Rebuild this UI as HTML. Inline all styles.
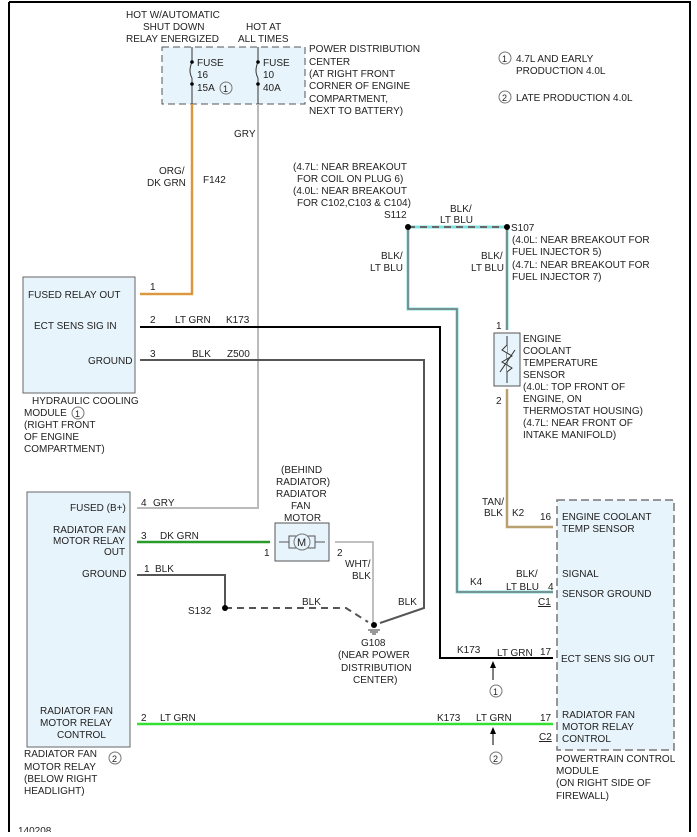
<!DOCTYPE html>
<html><head><meta charset="utf-8"><style>
html,body{margin:0;padding:0;background:#fff}
svg text{font-family:"Liberation Sans",sans-serif;font-size:10px;fill:#222}
</style></head><body>
<svg width="697" height="832" xmlns="http://www.w3.org/2000/svg">
<rect x="0" y="0" width="697" height="832" fill="#fff"/>
<line x1="9" y1="2" x2="691" y2="2" stroke="#000" stroke-width="2"/>
<line x1="9" y1="2" x2="9" y2="832" stroke="#000" stroke-width="2"/>
<line x1="690" y1="2" x2="690" y2="832" stroke="#000" stroke-width="2"/>

<!-- PDC -->
<rect x="162" y="47" width="143" height="57" fill="#e8f4fb" stroke="#555" stroke-dasharray="7,4"/>
<text x="126" y="18">HOT W/AUTOMATIC</text>
<text x="143" y="30">SHUT DOWN</text>
<text x="126" y="42">RELAY ENERGIZED</text>
<text x="246" y="30">HOT AT</text>
<text x="238" y="42">ALL TIMES</text>
<line x1="192" y1="47" x2="192" y2="62" stroke="#333"/>
<path d="M192 62 q-4 9 0 16" fill="none" stroke="#333"/>
<line x1="192" y1="78" x2="192" y2="104" stroke="#333"/>
<circle cx="192" cy="62" r="1.8" fill="#000"/><circle cx="192" cy="84" r="1.8" fill="#000"/>
<text x="197" y="66">FUSE</text><text x="197" y="78">16</text><text x="197" y="91">15A</text>
<circle cx="226" cy="88" r="6" fill="none" stroke="#777"/><text x="223" y="92" style="font-size:9px">1</text>
<line x1="258" y1="47" x2="258" y2="62" stroke="#333"/>
<path d="M258 62 q-4 9 0 16" fill="none" stroke="#333"/>
<line x1="258" y1="78" x2="258" y2="104" stroke="#333"/>
<circle cx="258" cy="62" r="1.8" fill="#000"/><circle cx="258" cy="84" r="1.8" fill="#000"/>
<text x="263" y="66">FUSE</text><text x="263" y="78">10</text><text x="263" y="91">40A</text>
<text x="309" y="52">POWER DISTRIBUTION</text>
<text x="309" y="65">CENTER</text>
<text x="309" y="77">(AT RIGHT FRONT</text>
<text x="309" y="89">CORNER OF ENGINE</text>
<text x="309" y="102">COMPARTMENT,</text>
<text x="309" y="114">NEXT TO BATTERY)</text>

<circle cx="505" cy="58" r="6" fill="none" stroke="#777"/><text x="502" y="62" style="font-size:9px">1</text>
<text x="516" y="62">4.7L AND EARLY</text><text x="516" y="74">PRODUCTION 4.0L</text>
<circle cx="505" cy="97" r="6" fill="none" stroke="#777"/><text x="502" y="101" style="font-size:9px">2</text>
<text x="516" y="101">LATE PRODUCTION 4.0L</text>

<!-- wires -->
<polyline points="192,104 192,294 140,294" fill="none" stroke="#e8a040" stroke-width="2.5"/>
<polyline points="192,104 192,294 140,294" fill="none" stroke="#b08040" stroke-width="0.6"/>
<polyline points="258,104 258,508 137,508" fill="none" stroke="#bbb" stroke-width="2"/>
<text x="234" y="137">GRY</text>
<text x="159" y="174">ORG/</text><text x="147" y="186">DK GRN</text>
<text x="203" y="183">F142</text>
<polyline points="140,327 440,327 440,658 553,658" fill="none" stroke="#000" stroke-width="2"/>
<polyline points="140,360 424,360 424,608 380,623" fill="none" stroke="#555" stroke-width="2"/>
<!-- S112/S107 -->
<line x1="408" y1="227" x2="507" y2="227" stroke="#7fe0e0" stroke-width="3"/>
<line x1="408" y1="227" x2="507" y2="227" stroke="#666" stroke-width="2" stroke-dasharray="7,5"/>
<polyline points="408,227 408,309 457,309 457,592 553,592" fill="none" stroke="#7fe0e0" stroke-width="3"/>
<polyline points="408,227 408,309 457,309 457,592 553,592" fill="none" stroke="#777" stroke-width="1.5"/>
<polyline points="507,227 507,330" fill="none" stroke="#7fe0e0" stroke-width="3"/>
<polyline points="507,227 507,330" fill="none" stroke="#777" stroke-width="1.5"/>
<polyline points="507,389 507,527 553,527" fill="none" stroke="#b8a070" stroke-width="2.5"/>
<circle cx="408" cy="227" r="3" fill="#000"/><circle cx="507" cy="227" r="3" fill="#000"/>
<text x="293" y="170">(4.7L: NEAR BREAKOUT</text>
<text x="297" y="182">FOR COIL ON PLUG 6)</text>
<text x="293" y="194">(4.0L: NEAR BREAKOUT</text>
<text x="297" y="206">FOR C102,C103 &amp; C104)</text>
<text x="384" y="218">S112</text>
<text x="450" y="212">BLK/</text><text x="440" y="223">LT BLU</text>
<text x="511" y="231">S107</text>
<text x="512" y="243">(4.0L: NEAR BREAKOUT FOR</text>
<text x="512" y="255">FUEL INJECTOR 5)</text>
<text x="512" y="268">(4.7L: NEAR BREAKOUT FOR</text>
<text x="512" y="280">FUEL INJECTOR 7)</text>
<text x="381" y="259">BLK/</text><text x="370" y="271">LT BLU</text>
<text x="481" y="259">BLK/</text><text x="471" y="271">LT BLU</text>
<!-- sensor -->
<rect x="494" y="333" width="26" height="53" fill="#e8f4fb" stroke="#555"/>
<line x1="507" y1="336" x2="507" y2="383" stroke="#333"/>
<polyline points="507,345 502,350 512,356 502,362 512,368 507,372" fill="#e8f4fb" stroke="#333"/>
<line x1="500" y1="372" x2="515" y2="350" stroke="#333"/>
<text x="496" y="329">1</text><text x="496" y="404">2</text>
<text x="523" y="342">ENGINE</text><text x="523" y="354">COOLANT</text><text x="523" y="366">TEMPERATURE</text><text x="523" y="378">SENSOR</text>
<text x="523" y="390">(4.0L: TOP FRONT OF</text><text x="523" y="402">ENGINE, ON</text>
<text x="523" y="414">THERMOSTAT HOUSING)</text><text x="523" y="426">(4.7L: NEAR FRONT OF</text>
<text x="523" y="438">INTAKE MANIFOLD)</text>

<!-- Hydraulic module -->
<rect x="23" y="277" width="112" height="116" fill="#e8f4fb" stroke="#666"/>
<text x="28" y="298">FUSED RELAY OUT</text>
<text x="34" y="329">ECT SENS SIG IN</text>
<text x="88" y="364">GROUND</text>
<text x="150" y="290">1</text>
<text x="150" y="323">2</text><text x="175" y="323">LT GRN</text><text x="226" y="323">K173</text>
<text x="150" y="357">3</text><text x="192" y="357">BLK</text><text x="227" y="357">Z500</text>
<text x="32" y="404">HYDRAULIC COOLING</text>
<text x="24" y="416">MODULE</text>
<circle cx="78" cy="413" r="6" fill="none" stroke="#777"/><text x="75" y="417" style="font-size:9px">1</text>
<text x="24" y="428">(RIGHT FRONT</text><text x="24" y="440">OF ENGINE</text><text x="24" y="452">COMPARTMENT)</text>

<!-- Relay -->
<rect x="27" y="492" width="103" height="255" fill="#e8f4fb" stroke="#666"/>
<text x="70" y="511">FUSED (B+)</text>
<text x="53" y="533">RADIATOR FAN</text><text x="53" y="544">MOTOR RELAY</text><text x="104" y="555">OUT</text>
<text x="82" y="577">GROUND</text>
<text x="40" y="714">RADIATOR FAN</text><text x="40" y="726">MOTOR RELAY</text><text x="57" y="738">CONTROL</text>
<text x="141" y="506">4</text><text x="153" y="506">GRY</text>
<text x="141" y="539">3</text><text x="160" y="539">DK GRN</text>
<text x="144" y="572">1</text><text x="155" y="572">BLK</text>
<line x1="137" y1="542" x2="270" y2="542" stroke="#2a9a2a" stroke-width="2.5"/>
<polyline points="137,575 225,575 225,608" fill="none" stroke="#555" stroke-width="2"/>
<polyline points="225,608 346,608 368,622" fill="none" stroke="#555" stroke-width="2" stroke-dasharray="7,5"/>
<circle cx="225" cy="608" r="3" fill="#000"/>
<text x="188" y="614">S132</text><text x="302" y="605">BLK</text><text x="398" y="605">BLK</text>
<polyline points="335,542 373,542 373,622" fill="none" stroke="#aaa" stroke-width="1.5"/>
<text x="345" y="567">WHT/</text><text x="352" y="579">BLK</text>
<!-- motor -->
<rect x="275" y="523" width="54" height="38" fill="#e8f4fb" stroke="#555"/>
<line x1="279" y1="542" x2="325" y2="542" stroke="#555"/>
<rect x="289" y="536" width="26" height="12" fill="#e8f4fb" stroke="#555"/>
<circle cx="302" cy="542" r="8" fill="#e8f4fb" stroke="#777"/>
<text x="297" y="546" style="font-size:11px">M</text>
<text x="264" y="556">1</text><text x="337" y="556">2</text>
<text x="281" y="473">(BEHIND</text><text x="276" y="485">RADIATOR)</text><text x="276" y="497">RADIATOR</text><text x="291" y="509">FAN</text><text x="284" y="521">MOTOR</text>
<!-- ground -->
<circle cx="374" cy="625" r="3" fill="#000"/>
<line x1="368" y1="630" x2="380" y2="630" stroke="#333"/><line x1="370" y1="632" x2="378" y2="632" stroke="#333"/><line x1="372" y1="634" x2="376" y2="634" stroke="#333"/>
<text x="361" y="646">G108</text><text x="338" y="658">(NEAR POWER</text><text x="341" y="671">DISTRIBUTION</text><text x="353" y="683">CENTER)</text>

<line x1="137" y1="724" x2="553" y2="724" stroke="#33e033" stroke-width="2.5"/>
<text x="141" y="721">2</text><text x="160" y="721">LT GRN</text>
<text x="437" y="721">K173</text><text x="476" y="721">LT GRN</text><text x="540" y="721">17</text>
<text x="539" y="740" style="text-decoration:underline">C2</text>
<text x="24" y="757">RADIATOR FAN</text><text x="24" y="770">MOTOR RELAY</text><text x="24" y="782">(BELOW RIGHT</text><text x="24" y="794">HEADLIGHT)</text>
<circle cx="115" cy="758" r="6" fill="none" stroke="#777"/><text x="112" y="762" style="font-size:9px">2</text>

<!-- PCM -->
<rect x="557" y="500" width="117" height="250" fill="#e8f4fb" stroke="#777" stroke-dasharray="8,4" stroke-width="1.5"/>
<text x="562" y="520">ENGINE COOLANT</text><text x="562" y="532">TEMP SENSOR</text>
<text x="562" y="577">SIGNAL</text><text x="562" y="597">SENSOR GROUND</text>
<text x="561" y="662">ECT SENS SIG OUT</text>
<text x="562" y="718">RADIATOR FAN</text><text x="562" y="730">MOTOR RELAY</text><text x="562" y="742">CONTROL</text>
<text x="540" y="520">16</text><text x="482" y="505">TAN/</text><text x="484" y="516">BLK</text><text x="512" y="516">K2</text>
<text x="516" y="577">BLK/</text><text x="506" y="590">LT BLU</text><text x="548" y="590">4</text><text x="470" y="585">K4</text>
<text x="538" y="605" style="text-decoration:underline">C1</text>
<text x="457" y="653">K173</text><text x="497" y="656">LT GRN</text><text x="540" y="655">17</text>
<line x1="493" y1="680" x2="493" y2="664" stroke="#000"/><polygon points="493,661 490,668 496,668" fill="#000"/>
<circle cx="496" cy="691" r="6" fill="none" stroke="#777"/><text x="493" y="695" style="font-size:9px">1</text>
<line x1="493" y1="745" x2="493" y2="730" stroke="#000"/><polygon points="493,727 490,734 496,734" fill="#000"/>
<circle cx="496" cy="758" r="6" fill="none" stroke="#777"/><text x="493" y="762" style="font-size:9px">2</text>
<text x="556" y="762">POWERTRAIN CONTROL</text><text x="556" y="774">MODULE</text><text x="556" y="786">(ON RIGHT SIDE OF</text><text x="556" y="799">FIREWALL)</text>
<text x="18" y="834">140208</text>
</svg>
</body></html>
